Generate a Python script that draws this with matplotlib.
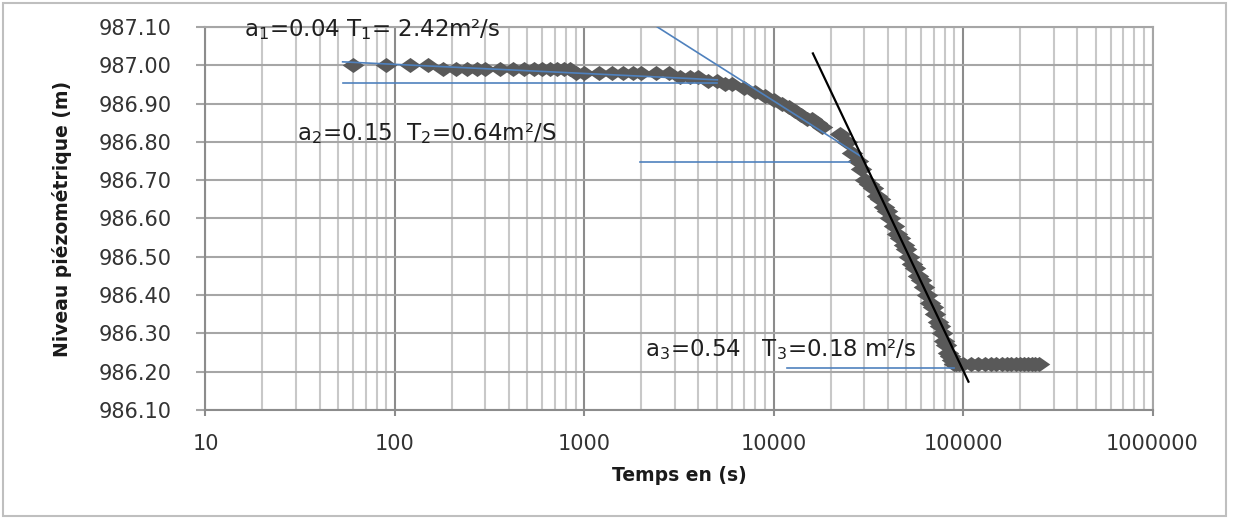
import matplotlib
matplotlib.use('Agg')
import matplotlib.pyplot as plt
from matplotlib.patches import Rectangle
from matplotlib.ticker import LogLocator, FuncFormatter, NullFormatter

plt.rcParams['font.family'] = ['DejaVu Sans']
plt.rcParams['mathtext.fontset'] = 'dejavusans'

# essai de pompage : temps (s) et niveau piezometrique (m)
temps = [60, 90, 120, 150, 180, 210, 240, 270, 300, 360, 420, 480, 540, 600,
         660, 720, 780, 840, 900, 1000, 1200, 1400, 1600, 1800, 2000, 2400,
         2800, 3200, 3600, 4000, 4500, 5000, 5500, 6000, 7000, 8000, 9000,
         10000, 11000, 12000, 13000, 14000, 15000, 16000, 17000, 18000,
         22500, 24500, 26000, 27700, 29000, 30500, 32000, 33500, 35000,
         36500, 38000, 39500, 41300, 43000, 45000, 46700, 48500, 50000,
         52000, 54000, 56000, 58000, 60000, 62500, 64800, 67000, 69000,
         71400, 73500, 75500, 77800, 79500, 81500, 83600, 85500, 87000,
         89000, 92000, 95000, 100000, 110000, 120000, 130000, 140000,
         150000, 160000, 170000, 180000, 190000, 200000, 210000, 220000,
         230000, 240000, 250000]
niveau = [987.00, 987.00, 987.00, 987.00, 986.99, 986.99, 986.99, 986.99,
          986.99, 986.99, 986.99, 986.99, 986.99, 986.99, 986.99, 986.99,
          986.99, 986.99, 986.98, 986.98, 986.98, 986.98, 986.98, 986.98,
          986.98, 986.98, 986.98, 986.97, 986.97, 986.97, 986.96, 986.96,
          986.95, 986.95, 986.94, 986.93, 986.92, 986.91, 986.90, 986.89,
          986.88, 986.87, 986.86, 986.86, 986.85, 986.84,
          986.82, 986.80, 986.77, 986.75, 986.73, 986.70, 986.69, 986.68,
          986.66, 986.65, 986.63, 986.62, 986.60, 986.58, 986.56, 986.55,
          986.53, 986.52, 986.50, 986.48, 986.47, 986.45, 986.44, 986.42,
          986.40, 986.38, 986.37, 986.35, 986.33, 986.32, 986.30, 986.28,
          986.27, 986.25, 986.24, 986.23, 986.22, 986.22, 986.22, 986.22,
          986.22, 986.22, 986.22, 986.22, 986.22, 986.22, 986.22, 986.22,
          986.22, 986.22, 986.22, 986.22, 986.22, 986.22, 986.22]

# droites d'ajustement (Cooper-Jacob)
droite1_t = [53, 5040]
droite1_h = [987.009, 986.962]
droite1b_t = [53, 5040]
droite1b_h = [986.955, 986.955]
droite2_t = [2430, 28700]
droite2_h = [987.10, 986.763]
droite2b_t = [1970, 25400]
droite2b_h = [986.748, 986.748]
droite3_t = [16100, 106700]
droite3_h = [987.031, 986.174]
droite3b_t = [11700, 89900]
droite3b_h = [986.21, 986.21]

yticks = [986.10, 986.20, 986.30, 986.40, 986.50, 986.60, 986.70, 986.80,
          986.90, 987.00, 987.10]
xticks = [10, 100, 1000, 10000, 100000, 1000000]

fig = plt.figure(figsize=(12.34, 5.19), dpi=100)
ax = fig.add_axes([0.1665, 0.21, 0.7675, 0.738])

losange = [(-1, 0), (0, 0.7), (1, 0), (0, -0.7)]
ax.plot(temps, niveau, linestyle='none', marker=losange, ms=15.5,
        color='#595959', mew=0, zorder=3)

bleu = '#4f81bd'
for t, h in [(droite1_t, droite1_h), (droite1b_t, droite1b_h),
             (droite2_t, droite2_h), (droite2b_t, droite2b_h),
             (droite3b_t, droite3b_h)]:
    ax.plot(t, h, color=bleu, lw=1.2, zorder=4)
ax.plot(droite3_t, droite3_h, color='black', lw=1.6, zorder=5)

ax.set_xscale('log')
ax.set_xlim(10, 1000000)
ax.set_ylim(986.10, 987.10)
ax.set_xticks(xticks)
ax.set_yticks(yticks)
ax.xaxis.set_minor_locator(LogLocator(base=10, subs=range(2, 10)))
ax.xaxis.set_minor_formatter(NullFormatter())
ax.xaxis.set_major_formatter(FuncFormatter(lambda v, p: f'{v:.0f}'))
ax.yaxis.set_major_formatter(FuncFormatter(lambda v, p: f'{v:.2f}'))

ax.set_axisbelow(True)
ax.grid(which='minor', axis='x', color='#c8c8c8', lw=1.5)
ax.grid(which='major', axis='x', color='#8c8c8c', lw=1.5)
ax.grid(which='major', axis='y', color='#a6a6a6', lw=1.5)
for s in ax.spines.values():
    s.set_color('#a6a6a6')
    s.set_linewidth(1.5)
ax.spines['left'].set_color('#8c8c8c')
ax.spines['bottom'].set_color('#8c8c8c')

ax.tick_params(which='minor', length=0)
ax.tick_params(axis='x', which='major', length=4.5, width=1.5, color='#8c8c8c',
               pad=13, labelsize=15, labelcolor='#333333')
ax.tick_params(axis='y', length=6.5, width=1.5, color='#a6a6a6', pad=18,
               labelsize=15, labelcolor='#333333')

ax.set_xlabel('Temps en (s)', fontsize=13.5, fontweight='bold', color='#1a1a1a')
ax.set_ylabel('Niveau piézométrique (m)', fontsize=13.5, fontweight='bold',
              color='#1a1a1a')
ax.xaxis.set_label_coords(0.5, -0.146)
ax.yaxis.set_label_coords(-0.141, 0.5)

txt = dict(ha='center', va='baseline', fontsize=16.5, color='#1f1f1f',
           clip_on=False, zorder=6)
ax.text(76, 987.075, 'a$_1$=0.04 T$_1$= 2.42m²/s', **txt)
ax.text(148, 986.805, 'a$_2$=0.15  T$_2$=0.64m²/S', **txt)
ax.text(10840, 986.241, 'a$_3$=0.54   T$_3$=0.18 m²/s', **txt)

fig.patches.append(Rectangle((3 / 1234, 3 / 519), 1223 / 1234, 513 / 519,
                             transform=fig.transFigure, fill=False,
                             ec='#bfbfbf', lw=1.5))

fig.savefig('out.png', dpi=100)
